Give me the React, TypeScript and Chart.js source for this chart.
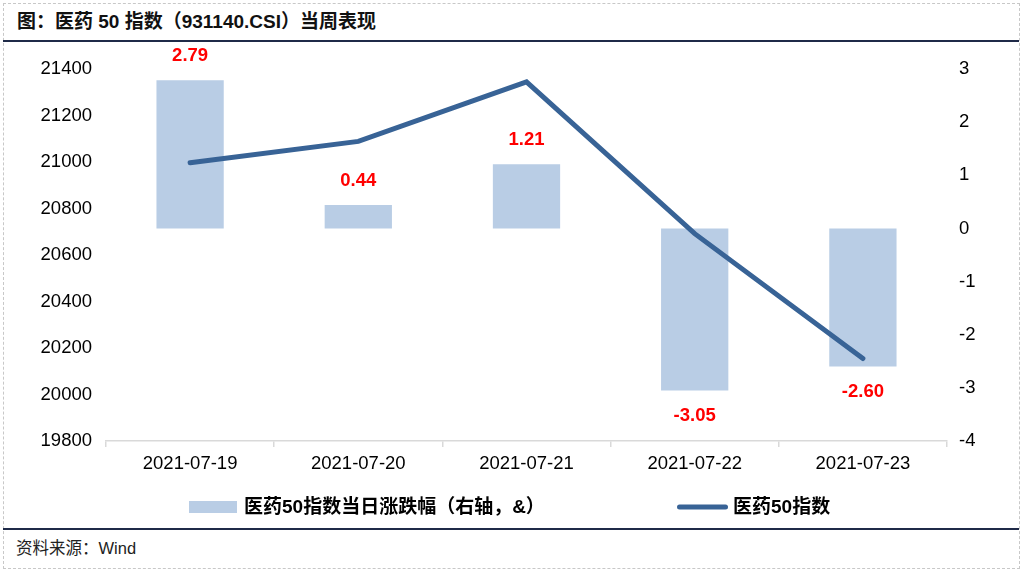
import React, { useEffect, useRef } from "react";
import { Chart, registerables } from "chart.js";

Chart.register(...registerables);

const categories = ["2021-07-19", "2021-07-20", "2021-07-21", "2021-07-22", "2021-07-23"];
const dailyChange = [2.79, 0.44, 1.21, -3.05, -2.6];
const indexValues = [20997, 21089, 21345, 20692, 20155];
const barLabel = "医药50指数当日涨跌幅（右轴，&）";
const lineLabel = "医药50指数";
const titleText = "图：医药 50 指数（931140.CSI）当周表现";
const sourceText = "资料来源：Wind";

const BAR_COLOR = "#b9cde5";
const LINE_COLOR = "#386396";
const FONT = '"Liberation Sans", Arial, "Noto Sans CJK SC", sans-serif';
const CJK_FONT = '"Liberation Sans", "Noto Sans CJK SC", sans-serif';

const labelPlugin = {
  id: "barValueLabels",
  afterDatasetsDraw(chart: any) {
    const ctx = chart.ctx;
    const meta = chart.getDatasetMeta(0);
    ctx.save();
    ctx.font = `bold 18.5px ${FONT}`;
    ctx.fillStyle = "#ff0000";
    ctx.textAlign = "center";
    ctx.textBaseline = "middle";
    meta.data.forEach((el: any, i: number) => {
      const v = dailyChange[i];
      const y = v >= 0 ? el.y - 24 : el.y + 25;
      ctx.fillText(v.toFixed(2), el.x, y);
    });
    ctx.restore();
  },
};

const legendPlugin = {
  id: "customLegend",
  afterDraw(chart: any) {
    const ctx = chart.ctx;
    const ds = chart.data.datasets;
    const cy = 463;
    ctx.save();
    ctx.fillStyle = ds[0].backgroundColor;
    ctx.fillRect(189, cy - 6, 48, 12);
    ctx.font = `bold 19px ${CJK_FONT}`;
    ctx.fillStyle = "#000";
    ctx.textBaseline = "middle";
    ctx.textAlign = "left";
    ctx.fillText(ds[0].label, 244, cy + 1);
    ctx.strokeStyle = ds[1].borderColor;
    ctx.lineWidth = 5;
    ctx.lineCap = "round";
    ctx.beginPath();
    ctx.moveTo(679.5, cy);
    ctx.lineTo(725.5, cy);
    ctx.stroke();
    ctx.fillText(ds[1].label, 733, cy + 1);
    ctx.restore();
  },
};

export default function App() {
  const ref = useRef<HTMLCanvasElement | null>(null);

  useEffect(() => {
    document.body.style.margin = "0";
    if (!ref.current) return;
    const chart = new Chart(ref.current, {
      type: "bar",
      data: {
        labels: categories,
        datasets: [
          {
            type: "bar",
            label: barLabel,
            data: dailyChange,
            backgroundColor: BAR_COLOR,
            yAxisID: "y1",
            barPercentage: 0.4,
            categoryPercentage: 1,
            order: 1,
          },
          {
            type: "line",
            label: lineLabel,
            data: indexValues,
            borderColor: LINE_COLOR,
            backgroundColor: LINE_COLOR,
            borderWidth: 5,
            borderCapStyle: "round",
            borderJoinStyle: "miter",
            pointRadius: 0,
            tension: 0,
            yAxisID: "y",
            order: 0,
          },
        ],
      } as any,
      options: {
        animation: false,
        responsive: false,
        layout: { padding: { left: 0, right: 0, top: 24, bottom: 55 } },
        plugins: {
          legend: { display: false },
          tooltip: { enabled: false },
        },
        scales: {
          x: {
            offset: true,
            grid: {
              display: true,
              offset: true,
              drawOnChartArea: false,
              drawTicks: true,
              tickLength: 6,
              color: "#d9d9d9",
              lineWidth: 1.5,
            },
            border: { display: true, color: "#d9d9d9", width: 1.5 },
            ticks: { color: "#000", font: { family: FONT, size: 18.5 }, padding: 6, maxRotation: 0 },
            afterFit(scale: any) {
              scale.height = 30;
            },
          },
          y: {
            position: "left",
            min: 19800,
            max: 21400,
            grid: { display: false, drawTicks: false },
            border: { display: false },
            ticks: {
              stepSize: 200,
              color: "#000",
              font: { family: FONT, size: 18.5 },
              padding: 14,
              callback: (v: any) => String(v),
            },
            afterFit(scale: any) {
              scale.width = 106;
            },
          },
          y1: {
            position: "right",
            min: -4,
            max: 3,
            grid: { display: false, drawTicks: false },
            border: { display: false },
            ticks: {
              stepSize: 1,
              color: "#000",
              font: { family: FONT, size: 18.5 },
              padding: 12,
              callback: (v: any) => String(v),
            },
            afterFit(scale: any) {
              scale.width = 77;
            },
          },
        },
      } as any,
      plugins: [labelPlugin, legendPlugin],
    });
    return () => chart.destroy();
  }, []);

  return (
    <div style={{ position: "relative", width: 1024, height: 572, background: "#fff", overflow: "hidden" }}>
      <div
        style={{
          position: "absolute",
          left: 3,
          top: 3,
          width: 1015,
          height: 564,
          border: "1px dashed #c8c8c8",
        }}
      />
      <div
        style={{
          position: "absolute",
          left: 17,
          top: 10,
          fontFamily: CJK_FONT,
          fontWeight: "bold",
          fontSize: 19,
          lineHeight: "24px",
          color: "#111",
          whiteSpace: "nowrap",
        }}
      >
        {titleText}
      </div>
      <div style={{ position: "absolute", left: 3, top: 40, width: 1016, height: 2, background: "#1f2a48" }} />
      <canvas
        ref={ref}
        width={1024}
        height={482}
        style={{ position: "absolute", left: 0, top: 44, width: 1024, height: 482 }}
      />
      <div style={{ position: "absolute", left: 3, top: 528, width: 1016, height: 2, background: "#1f2a48" }} />
      <div
        style={{
          position: "absolute",
          left: 16,
          top: 538,
          fontFamily: CJK_FONT,
          fontSize: 16.5,
          lineHeight: "20px",
          color: "#222",
          whiteSpace: "nowrap",
        }}
      >
        {sourceText}
      </div>
    </div>
  );
}
